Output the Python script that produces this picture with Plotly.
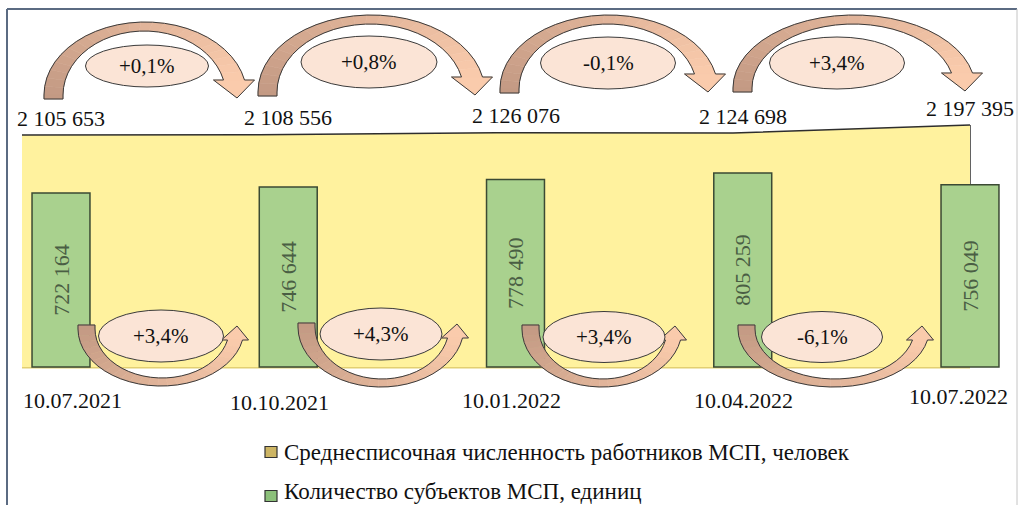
import math
import numpy as np
import plotly.graph_objects as go

# ---------------- data ----------------
dates = ["10.07.2021", "10.10.2021", "10.01.2022", "10.04.2022", "10.07.2022"]
employees = [2105653, 2108556, 2126076, 2124698, 2197395]
subjects = [722164, 746644, 778490, 805259, 756049]
emp_changes = ["+0,1%", "+0,8%", "-0,1%", "+3,4%"]
subj_changes = ["+3,4%", "+4,3%", "+3,4%", "-6,1%"]
emp_name = "Среднесписочная численность работников МСП, человек"
subj_name = "Количество субъектов МСП, единиц"

W, H = 1018, 505
FONT = "'Liberation Serif', 'Times New Roman', 'DejaVu Serif', serif"


def fmt(v):
    return f"{v:,}".replace(",", " ")


def pxx(x):
    return x / W


def pxy(y):
    return 1 - y / H


idx = list(range(len(dates)))

fig = go.Figure()

# area (employees) on the main axes
fig.add_trace(go.Scatter(
    x=idx, y=employees, mode="lines", fill="tozeroy",
    fillcolor="#FFF29E", line=dict(color="#2e2e2e", width=1.5),
    xaxis="x", yaxis="y", name=emp_name, showlegend=False, hoverinfo="skip"))

# bars (subjects) on overlay axes
fig.add_trace(go.Bar(
    x=idx, y=subjects, width=0.255,
    marker=dict(color="#A9D18E", line=dict(color="#3b4a34", width=1.5)),
    text=[fmt(v) for v in subjects], textposition="inside",
    insidetextanchor="middle", textangle=-90,
    textfont=dict(family=FONT, size=22, color="#4a5e44"),
    xaxis="x2", yaxis="y2", name=subj_name, showlegend=False, hoverinfo="skip"))

shapes = []
annotations = []

# right edge of area and bottom shading
shapes.append(dict(type="line", xref="x", yref="y", x0=idx[-1], x1=idx[-1],
                   y0=0, y1=employees[-1], line=dict(color="#2e2e2e", width=1.5),
                   layer="below"))
shapes.append(dict(type="line", xref="x", yref="y", x0=idx[0], x1=idx[-1],
                   y0=0, y1=0, line=dict(color="#e2cf72", width=3), layer="below"))


def lerp(c0, c1, t):
    return "rgb(%d,%d,%d)" % tuple(round(a + (b - a) * t) for a, b in zip(c0, c1))


def arrow_shapes(x0, xtip, y_tail, y_ext, tw, mw, sw, hw, hl, tip_off,
                 c0=(196, 154, 132), c1=(250, 203, 172), n=26):
    s = -1 if y_ext < y_tail else 1
    h = abs(y_ext - y_tail)
    Yc = 4.0
    xs = xtip - tip_off

    def P(X, Y):
        return (X / W, 1 - (y_tail + s * Y) / H)

    ry_o = h - Yc
    th_o = math.asin((hl - Yc) / ry_o)
    rx_o = (xs + sw / 2 - x0) / (1 + math.cos(th_o))
    cx_o = x0 + rx_o
    ry_i = h - mw - Yc
    th_i = math.asin((hl - Yc) / ry_i)
    rx_i = (xs - sw / 2 - x0 - tw) / (1 + math.cos(th_i))
    cx_i = x0 + tw + rx_i
    ts = np.linspace(0, 1, n)
    outer, inner = [], []
    for t in ts:
        a = math.pi + t * (th_o - math.pi)
        outer.append((cx_o + rx_o * math.cos(a), Yc + ry_o * math.sin(a)))
        b = math.pi + t * (th_i - math.pi)
        inner.append((cx_i + rx_i * math.cos(b), Yc + ry_i * math.sin(b)))

    def path(pts):
        return "M " + " L ".join("%.5f,%.5f" % P(*p) for p in pts) + " Z"

    out = []
    tail = [(x0, 0), outer[0], inner[0], (x0 + tw, 0)]
    col = lerp(c0, c1, 0)
    out.append(dict(type="path", xref="paper", yref="paper", path=path(tail),
                    fillcolor=col, line=dict(color=col, width=0.6), layer="above"))
    for k in range(n - 1):
        poly = [outer[k], outer[k + 1], inner[k + 1], inner[k]]
        col = lerp(c0, c1, (k + 0.5) / (n - 1))
        out.append(dict(type="path", xref="paper", yref="paper", path=path(poly),
                        fillcolor=col, line=dict(color=col, width=0.6), layer="above"))
    head = [(xs - hw / 2, hl), (xs + hw / 2, hl), (xtip, 1)]
    col = lerp(c0, c1, 1)
    out.append(dict(type="path", xref="paper", yref="paper", path=path(head),
                    fillcolor=col, line=dict(color=col, width=0.6), layer="above"))
    outline = ([(x0 + tw, 0), (x0, 0)] + outer + [(xs + hw / 2, hl), (xtip, 1),
               (xs - hw / 2, hl)] + inner[::-1])
    out.append(dict(type="path", xref="paper", yref="paper", path=path(outline),
                    fillcolor="rgba(0,0,0,0)", line=dict(color="#3a3a3a", width=1),
                    layer="above"))
    return out


top_arrows = [(44, 237, 99, 22), (258, 475, 96, 15), (500, 708, 93, 15), (733, 965, 92, 15)]
bot_arrows = [(78, 237, 325, 386), (298, 457, 323, 387), (522, 675, 325, 387), (738, 922, 325, 387)]
for a in top_arrows:
    shapes += arrow_shapes(*a, tw=19, mw=9, sw=21, hw=41, hl=19, tip_off=3)
for a in bot_arrows:
    shapes += arrow_shapes(*a, tw=17, mw=8, sw=15, hw=27, hl=15, tip_off=2)

top_ell = [(147, 66, 123, 42), (369, 62, 136, 52), (608, 63, 135, 52), (837, 63, 135, 52)]
bot_ell = [(161, 336, 125, 52), (381, 334, 122, 52), (604, 337, 122, 51), (822, 337, 121, 51)]
for ells, labels in ((top_ell, emp_changes), (bot_ell, subj_changes)):
    for (cx, cy, ew, eh), lab in zip(ells, labels):
        shapes.append(dict(type="circle", xref="paper", yref="paper",
                           x0=pxx(cx - ew / 2), x1=pxx(cx + ew / 2),
                           y0=pxy(cy + eh / 2), y1=pxy(cy - eh / 2),
                           fillcolor="#FBE4D6", line=dict(color="#3a3a3a", width=1),
                           layer="above"))
        annotations.append(dict(xref="paper", yref="paper", x=pxx(cx), y=pxy(cy),
                                text=lab, showarrow=False, xanchor="center",
                                yanchor="middle",
                                font=dict(family=FONT, size=21, color="#111")))

# employee value labels
for i, v in zip(idx, employees):
    annotations.append(dict(xref="x2", yref="y", x=i, y=v, yshift=17, text=fmt(v),
                            showarrow=False, xanchor="center", yanchor="middle",
                            font=dict(family=FONT, size=22, color="#111")))

# date labels
date_xshift = [11, -9, -4, 1, -12]
date_yshift = [0, -2, 0, 0, 4]
for i, d, xs_, ys_ in zip(idx, dates, date_xshift, date_yshift):
    annotations.append(dict(xref="x2", yref="paper", x=i, y=pxy(400), xshift=xs_,
                            yshift=ys_, text=d, showarrow=False, xanchor="center",
                            yanchor="middle",
                            font=dict(family=FONT, size=22, color="#111")))

# legend (manual)
legend_items = [(emp_name, "#CDB564", 452, 452), (subj_name, "#8CC07A", 491, 496)]
for name, col, yc, ym in legend_items:
    shapes.append(dict(type="rect", xref="paper", yref="paper",
                       x0=pxx(265), x1=pxx(277), y0=pxy(ym + 5.5), y1=pxy(ym - 5.5),
                       fillcolor=col, line=dict(color="#333", width=1.2), layer="above"))
    annotations.append(dict(xref="paper", yref="paper", x=pxx(282), y=pxy(yc),
                            text=name, showarrow=False, xanchor="left", yanchor="middle",
                            font=dict(family=FONT, size=23, color="#111")))

# outer frame
shapes.append(dict(type="line", xref="paper", yref="paper", x0=pxx(7), x1=pxx(1017),
                   y0=pxy(9), y1=pxy(9), line=dict(color="#5b6b82", width=2)))
shapes.append(dict(type="line", xref="paper", yref="paper", x0=pxx(7), x1=pxx(7),
                   y0=pxy(9), y1=pxy(510), line=dict(color="#5b6b82", width=2)))
shapes.append(dict(type="line", xref="paper", yref="paper", x0=pxx(1017), x1=pxx(1017),
                   y0=pxy(9), y1=pxy(510), line=dict(color="#c4c4c4", width=1)))

# axis scaling: area (x,y), bars (x2,y2)
area_u = 237.0       # px per category (area)
bar_u = 227.25       # px per category (bars)
area_k = 110.13e-6   # px per unit value (area)
bar_k = 241e-6       # px per unit value (bars)
base_px = 367

ax_off = dict(visible=False, showgrid=False, zeroline=False, fixedrange=True)
fig.update_layout(
    width=W, height=H, autosize=False,
    margin=dict(l=0, r=0, t=0, b=0, pad=0),
    paper_bgcolor="white", plot_bgcolor="rgba(0,0,0,0)",
    showlegend=False,
    xaxis=dict(range=[-22 / area_u, (W - 22) / area_u], domain=[0, 1], **ax_off),
    yaxis=dict(range=[-(H - base_px) / area_k, base_px / area_k], domain=[0, 1], **ax_off),
    xaxis2=dict(range=[-61 / bar_u, (W - 61) / bar_u], overlaying="x", anchor="y2", **ax_off),
    yaxis2=dict(range=[-(H - base_px) / bar_k, base_px / bar_k], overlaying="y", anchor="x2", **ax_off),
    shapes=shapes, annotations=annotations,
)

fig.write_html("out.html", config={"displayModeBar": False, "staticPlot": True},
               post_script="document.body.style.margin='0';document.body.style.overflow='hidden';")
